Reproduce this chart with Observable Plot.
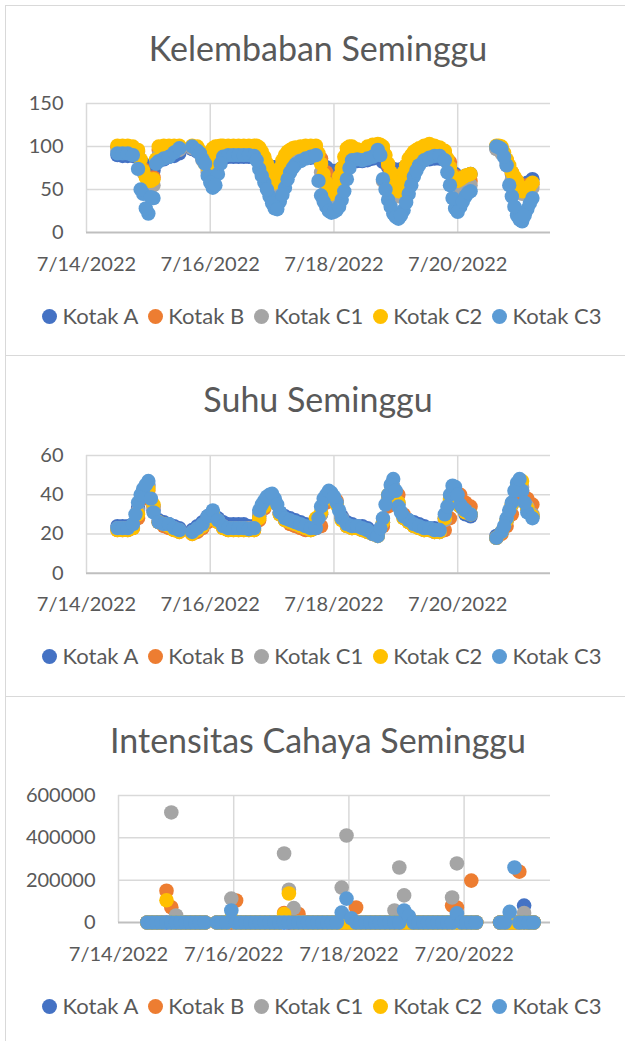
<!DOCTYPE html>
<html><head><meta charset="utf-8">
<script src="https://cdn.jsdelivr.net/npm/d3@7"></script>
<script src="https://cdn.jsdelivr.net/npm/@observablehq/plot@0.6"></script>
<style>
body{margin:0;background:#fff;font-family:Lato,"Open Sans",sans-serif;}
#page{position:relative;width:625px;height:1041px;overflow:hidden;background:#fff}
.box{position:absolute;left:5px;width:640px;border-left:1.5px solid #d9d9d9;border-top:1.5px solid #d9d9d9;box-sizing:border-box}
.title{position:absolute;left:18px;width:600px;text-align:center;font-size:34px;line-height:34px;color:#595959;font-weight:400;white-space:nowrap}
.chart{position:absolute;left:0}
.legend{position:absolute;left:0;width:644px;display:flex;justify-content:center;font-size:22px;line-height:22px;color:#595959;white-space:nowrap}
.item{display:flex;align-items:center;margin:0 5px}
.sw{width:15px;height:15px;border-radius:50%;margin-right:5px}
</style></head>
<body>
<div id="page">
  <div class="box" style="top:5px;height:351px"></div>
  <div class="box" style="top:355px;height:342px"></div>
  <div class="box" style="top:696px;height:360px"></div>
  <div class="title" style="top:31px">Kelembaban Seminggu</div>
  <div class="title" style="top:382px">Suhu Seminggu</div>
  <div class="title" style="top:723px">Intensitas Cahaya Seminggu</div>
  <div id="c1" class="chart" style="top:80px"></div>
  <div id="c2" class="chart" style="top:430px"></div>
  <div id="c3" class="chart" style="top:770px"></div>
  <div id="l1" class="legend" style="top:305px"></div>
  <div id="l2" class="legend" style="top:645px"></div>
  <div id="l3" class="legend" style="top:995px"></div>
</div>
<script>
// time of each reading, hours after 7/14/2022 00:00
const hours = [
  12,14,16,18,20,22,24,26,28,30,32,34,36,
  41,43,45,47,49, 51,53,55,57,59, 61,63,65,67,69, 71,73,75,77,79, 81,83,85,87,89,
  91,93,95,97,99, 101,103,105,107,109, 111,113,115,117,119, 121,123,125,127,129,
  131,133,135,137,139, 141,143,145,147,149,
  159,161,163,165,167,169,171,173
];
const seriesNames = ["Kotak A","Kotak B","Kotak C1","Kotak C2","Kotak C3"];
const seriesColors = ["#4472C4","#ED7D31","#A5A5A5","#FFC000","#5B9BD5"];
const dateTicks = ["2022-07-14","2022-07-16","2022-07-18","2022-07-20"];
const humTicks = [0,50,100,150];
const tempTicks = [0,20,40,60];
const lightTicks = [0,200000,400000,600000];

// Kelembaban
const humA = [90,89,89,89,88,80,70,72,84,85,88,89,92,
  97,94,88,80,76, 80,86,88,88,88, 88,88,88,85,80, 77,76,78,80,83, 85,86,87,87,87,
  82,76,72,72,75, 80,82,83,83,84, 86,90,82,76,74, 73,75,78,80,82, 84,85,86,86,84, 76,68,64,66,68,
  98,96,82,68,55,50,58,62];
const humB = [99,99,99,98,94,74,62,64,96,98,99,99,99,
  99,97,86,74,94, 98,99,99,99,99, 99,99,99,96,85, 70,60,72,86,93, 96,97,98,98,97,
  86,70,55,58,70, 93,97,95,93,97, 99,100,95,78,60, 52,66,82,90,95, 98,100,99,97,93, 82,66,62,64,60,
  100,98,84,70,60,52,55,56];
const humC1 = [95,95,95,94,90,70,56,55,90,92,94,95,96,
  98,95,84,70,78, 88,94,94,94,94, 94,94,94,92,78, 62,50,60,76,86, 90,92,93,94,94,
  70,49,40,45,60, 88,92,91,90,93, 95,97,60,52,45, 42,55,70,82,88, 92,95,95,94,90, 72,56,50,54,55,
  97,92,78,62,52,45,48,52];
const humC2 = [101,101,101,100,96,72,60,62,100,101,101,101,101,
  101,100,88,76,98, 100,101,101,101,101, 101,101,101,99,88, 72,58,75,90,96, 99,100,101,101,101,
  80,58,45,55,75, 98,100,97,95,100, 102,103,100,80,60, 48,70,86,94,98, 101,103,101,99,95, 76,60,62,66,68,
  101,100,85,70,60,48,50,58];
const humC3 = [92,92,92,90,74,45,22,40,83,86,88,93,98,
  100,95,85,66,52, 68,88,90,90,90, 90,90,89,74,58, 42,28,36,52,70, 79,83,86,88,90,
  43,30,23,26,38, 62,84,85,84,86, 88,96,62,38,22, 16,26,45,65,78, 84,87,89,89,84, 55,28,30,42,48,
  100,97,78,42,20,13,27,40];
// extra readings on the steep stretches of Kotak C2 and C3
const humExtraHours = [21,23,25,27, 44,46,48,50,52, 66,68,70,72,74,76,78,80,
  90,92,94,96,98,100,102, 114,116,118,120,122,124,126,128, 140,142,144,146,148,
  160,162,164,166,168,170,172];
const humC2Extra = [85,64,60,85, 95,80,88,100,101, 101,94,80,64,62,84,94,98,
  92,68,50,48,65,88,100, 102,90,70,52,58,78,90,96, 86,66,60,64,67,
  101,93,78,65,54,48,54];
const humC3Extra = [50,28,41,80, 92,80,58,55,80, 84,66,50,34,27,44,62,75,
  60,36,25,24,30,48,75, 90,50,30,18,20,35,55,72, 70,40,24,36,46,
  99,88,55,30,15,20,34];

// Suhu
const tempA = [24,24,24,25,33,42,45,32,27,26,25,24,23,
  22,24,26,29,31, 28,26,25,25,25, 25,24,24,29,35, 38,37,31,29,28, 27,26,25,24,23,
  30,38,40,36,29, 26,25,24,24,23, 21,20,26,38,44, 35,29,27,26,25, 24,23,23,22,28, 36,40,34,30,29,
  19,21,27,35,44,40,33,29];
const tempB = [22,22,22,23,28,38,42,34,26,24,23,22,21,
  20,21,23,26,29, 26,23,22,22,22, 22,22,22,27,33, 37,36,30,27,25, 24,23,22,22,23,
  24,36,40,37,28, 24,23,23,22,21, 20,20,24,34,39, 40,30,26,24,23, 22,22,21,21,22, 28,36,40,36,34,
  18,20,24,30,38,42,38,35];
const tempC1 = [23,23,23,24,32,41,44,34,26,25,24,23,22,
  21,22,24,28,31, 27,24,23,23,23, 23,23,23,30,35, 39,37,30,27,26, 25,24,23,22,26,
  30,38,40,36,28, 24,23,23,22,21, 20,19,26,38,44, 36,28,26,24,23, 22,22,21,21,27, 37,42,34,31,30,
  18,21,27,35,44,44,34,30];
const tempC2 = [22,22,22,23,30,40,43,35,26,25,24,22,21,
  20,22,24,27,30, 26,23,22,22,22, 22,22,22,28,34, 38,36,30,27,26, 25,24,23,22,28,
  31,38,40,35,27, 24,23,23,22,21, 20,19,26,40,43, 36,28,26,24,23, 22,22,21,21,28, 38,42,34,31,30,
  18,21,27,35,44,47,33,29];
const tempC3 = [23,23,23,25,36,43,47,31,26,25,25,23,22,
  21,23,25,29,32, 27,24,23,23,23, 23,22.5,23,32,37, 40,38,31,28,27, 26,25,24,23,23,
  34,40,41,36,28, 25,24,24,23,22, 20,19,28,40,48, 34,29,27,25,24, 23,23,22,22,30, 40,44,35,32,30,
  18,21,28,36,46,42,31,28];
// extra readings on the peaks of Kotak C3
const tempExtraHours = [19,21,23,25, 68,70,72,74, 90,92,94,96,98, 114,116,118,120,122,
  140,142,144,146, 162,164,166,168,170];
const tempC3Extra = [30,40,45,38, 35,39,40.5,35, 28,38,42,39,32, 23,35,45,42,31,
  34,44.6,40,33, 24,32,42,48,36];

// Intensitas Cahaya
const lightA = [0,0,0,0,0,0,0,0,0,0,0,0,0,
  0,0,0,0,0, 0,0,0,0,0, 0,0,0,0,0, 0,0,0,0,0, 0,0,0,0,0,
  0,0,0,0,0, 0,0,0,0,0, 0,0,0,0,0, 0,0,0,0,0, 0,0,0,0,0, 0,0,0,0,0,
  0,0,0,0,0,80000,0,0];
const lightB = [0,0,0,0,150000,72000,0,0,0,0,0,0,0,
  0,0,0,0,104000, 0,0,0,0,0, 0,0,0,0,45000, 0,0,40000,0,0, 0,0,0,0,0,
  0,0,0,0,71000, 0,0,0,0,0, 0,0,0,0,0, 24000,0,0,0,0, 0,0,0,0,80000, 71000,0,0,198000,0,
  0,0,0,0,240000,0,0,0];
const lightC1 = [0,0,0,0,0,520000,33000,0,0,0,0,0,0,
  0,0,0,113000,0, 0,0,0,0,0, 0,0,0,0,326000, 155000,68000,0,0,0, 0,0,0,0,0,
  0,165000,411000,0,0, 0,0,0,0,0, 0,0,57000,260000,128000, 0,0,0,0,0, 0,0,0,0,118000, 279000,0,0,0,0,
  0,0,0,0,0,45000,0,0];
const lightC2 = [0,0,0,0,105000,0,0,0,0,0,0,0,0,
  0,0,0,20000,0, 0,0,0,0,0, 0,0,0,0,40000, 137000,0,0,0,0, 0,0,0,0,0,
  0,0,0,0,0, 0,0,0,0,0, 0,0,0,0,0, 0,0,0,0,0, 0,0,0,0,0, 0,0,0,0,0,
  0,0,0,0,0,0,0,0];
const lightC3 = [0,0,0,0,0,0,0,0,0,0,0,0,0,
  0,0,0,57000,0, 0,0,0,0,0, 0,0,0,0,0, 0,0,0,0,0, 0,0,0,0,0,
  0,47000,113000,20000,0, 0,0,0,0,0, 0,0,0,0,57000, 30000,0,0,0,0, 0,0,0,0,0, 43000,0,0,0,0,
  0,0,50000,260000,0,0,0,0];

const t0 = Date.UTC(2022,6,14);
const xDomain = [new Date(t0), new Date(t0 + 7.5*86400e3)];
const xTickDates = dateTicks.map(d => new Date(d + "T00:00:00Z"));
const fmtDate = d => `${d.getUTCMonth()+1}/${d.getUTCDate()}/${d.getUTCFullYear()}`;

// series: list of [values, extraHours?, extraValues?] in drawing order A..C3
function toRows(series) {
  const out = [];
  series.forEach(([vals, exH, exV], i) => {
    if (vals.length !== hours.length) throw new Error(seriesNames[i] + " length " + vals.length);
    vals.forEach((v, j) => out.push({date: new Date(t0 + hours[j]*3600e3), v, s: seriesNames[i]}));
    if (exH) {
      if (exH.length !== exV.length) throw new Error(seriesNames[i] + " extra length " + exV.length);
      exV.forEach((v, j) => out.push({date: new Date(t0 + exH[j]*3600e3), v, s: seriesNames[i]}));
    }
  });
  return out;
}

function makeChart({series, yTicks, height, mTop, plotH, mLeft, r}) {
  return Plot.plot({
    width: 625, height,
    marginTop: mTop, marginBottom: height - mTop - plotH, marginLeft: mLeft, marginRight: 75,
    style: {fontFamily: "Lato, sans-serif", fontSize: "20px", color: "#595959", background: "transparent", overflow: "visible"},
    x: {type: "utc", domain: xDomain},
    y: {domain: [yTicks[0], yTicks[yTicks.length-1]]},
    color: {domain: seriesNames, range: seriesColors},
    marks: [
      Plot.ruleY(yTicks.slice(1), {stroke: "#d9d9d9", strokeWidth: 1.5}),
      Plot.ruleX(xTickDates, {stroke: "#d9d9d9", strokeWidth: 1.5}),
      Plot.ruleY([yTicks[0]], {stroke: "#bfbfbf", strokeWidth: 2}),
      Plot.axisY({ticks: yTicks, tickSize: 0, tickPadding: 23, tickFormat: d => String(d), label: null}),
      Plot.axisX({ticks: xTickDates, tickSize: 0, tickPadding: 24, tickFormat: fmtDate, label: null}),
      Plot.dot(toRows(series), {x: "date", y: "v", fill: "s", r})
    ]
  });
}

document.getElementById("c1").append(makeChart({
  series: [[humA], [humB], [humC1], [humC2, humExtraHours, humC2Extra], [humC3, humExtraHours, humC3Extra]],
  yTicks: humTicks, height: 210, mTop: 23, plotH: 129, mLeft: 86, r: 7.2}));
document.getElementById("c2").append(makeChart({
  series: [[tempA], [tempB], [tempC1], [tempC2], [tempC3, tempExtraHours, tempC3Extra]],
  yTicks: tempTicks, height: 200, mTop: 25, plotH: 117.7, mLeft: 86, r: 7.2}));
document.getElementById("c3").append(makeChart({
  series: [[lightA], [lightB], [lightC1], [lightC2], [lightC3]],
  yTicks: lightTicks, height: 210, mTop: 25, plotH: 127, mLeft: 118, r: 7.3}));

for (const id of ["l1","l2","l3"]) {
  const el = document.getElementById(id);
  seriesNames.forEach((n, i) => {
    const it = document.createElement("div"); it.className = "item";
    const sw = document.createElement("div"); sw.className = "sw"; sw.style.background = seriesColors[i];
    const tx = document.createElement("span"); tx.textContent = n;
    it.append(sw, tx); el.append(it);
  });
}
</script>
</body></html>
